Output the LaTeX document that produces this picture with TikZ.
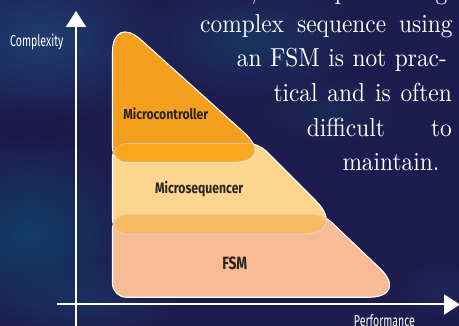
\documentclass[tikz,border=0pt]{standalone}
\usepackage{fontspec}
\usetikzlibrary{arrows.meta,calc,fadings}
\newfontfamily\labfont{Fira Sans}
\newfontfamily\gara{lmroman10-regular}[Extension=.otf,FakeStretch=0.9]
\definecolor{bgbase}{HTML}{1E1B4E}
\definecolor{mcfill}{HTML}{F59F1E}
\definecolor{msfill}{HTML}{FCD68E}
\definecolor{fsmfill}{HTML}{F8BB95}
\definecolor{bandone}{HTML}{FBA81C}
\definecolor{bandtwo}{HTML}{FBB961}
\definecolor{bandln}{HTML}{D8C2A2}
\definecolor{labtext}{HTML}{2A2421}
\tikzfading[name=softblob, inner color=transparent!0, outer color=transparent!100]
\newcommand\rc[4]{-- ($(#2)!#4!(#1)$) .. controls ($(#2)!0.45*#4!(#1)$) and ($(#2)!0.45*#4!(#3)$) .. ($(#2)!#4!(#3)$)}
\def\pathMC{($(A3)!0.5!(A1)$) \rc{A3}{A1}{A2}{38pt} \rc{A1}{A2}{A3}{44pt} \rc{A2}{A3}{A1}{14pt} -- cycle}
\def\pathMS{($(B4)!0.5!(B1)$) \rc{B4}{B1}{B2}{14pt} \rc{B1}{B2}{B3}{10pt} \rc{B2}{B3}{B4}{46pt} \rc{B3}{B4}{B1}{14pt} -- cycle}
\def\pathFSM{($(C4)!0.5!(C1)$) \rc{C4}{C1}{C2}{14pt} \rc{C1}{C2}{C3}{10pt} \rc{C2}{C3}{C4}{42pt} \rc{C3}{C4}{C1}{14pt} -- cycle}
\begin{document}
\begin{tikzpicture}[x=1pt,y=-1pt,
  shapeline/.style={draw=white, line width=1.1pt},
  bandline/.style={draw=bandln, line width=0.6pt},
  axisline/.style={draw=white, line width=2pt, -{Triangle[length=16pt,width=20pt]}},
  boxlabel/.style={inner sep=0pt, anchor=base, text=labtext},
  axislabel/.style={inner sep=0pt, anchor=base, text=white},
  prose/.style={inner sep=0pt, anchor=base west, text=white, font=\gara\fontsize{26}{30}\selectfont},
  blob/.style={path fading=softblob}]
\useasboundingbox (0,0) rectangle (459,326);
\clip (0,0) rectangle (459,326);
% background
\fill[bgbase] (0,0) rectangle (459,326);
\fill[blob, color={rgb,255:red,29;green,74;blue,125}, fill opacity=0.75] (40,40) ellipse [x radius=130, y radius=85];
\fill[blob, color={rgb,255:red,14;green,74;blue,112}, fill opacity=0.75] (30,235) ellipse [x radius=110, y radius=100];
\fill[blob, color={rgb,255:red,22;green,68;blue,108}, fill opacity=0.65] (250,40) ellipse [x radius=115, y radius=60];
\fill[blob, color={rgb,255:red,23;green,62;blue,100}, fill opacity=0.45] (330,110) ellipse [x radius=75, y radius=35];
\fill[blob, color={rgb,255:red,26;green,23;blue,67}, fill opacity=0.8] (30,125) ellipse [x radius=70, y radius=30];
\fill[blob, color={rgb,255:red,26;green,62;blue,109}, fill opacity=0.55] (90,300) ellipse [x radius=95, y radius=40];
\fill[blob, color={rgb,255:red,28;green,58;blue,102}, fill opacity=0.4] (440,290) ellipse [x radius=45, y radius=30];
% shape corners
\coordinate (A1) at (112.5,14.2);
\coordinate (A2) at (276.7,162);
\coordinate (A3) at (112.5,162);
\coordinate (B1) at (112.5,143.5);
\coordinate (B2) at (258.5,143.5);
\coordinate (B3) at (348.5,233.5);
\coordinate (B4) at (112.5,233.5);
\coordinate (C1) at (112.5,215);
\coordinate (C2) at (323.9,215);
\coordinate (C3) at (410.2,297.3);
\coordinate (C4) at (112.5,297.3);
% shapes
\path[fill=fsmfill, shapeline] \pathFSM;
\path[fill=msfill, shapeline] \pathMS;
\path[fill=mcfill, shapeline] \pathMC;
% overlap bands
\begin{scope}
  \clip \pathMC;
  \fill[bandone] \pathMS;
  \draw[bandline] \pathMS;
\end{scope}
\begin{scope}
  \clip \pathMS;
  \draw[bandline] \pathMC;
\end{scope}
\begin{scope}
  \clip \pathMS;
  \fill[bandtwo] \pathFSM;
  \draw[bandline] \pathFSM;
\end{scope}
\begin{scope}
  \clip \pathFSM;
  \draw[bandline] \pathMS;
\end{scope}
% labels
\node[boxlabel] (lmc) at (165.8,120) {\resizebox{85pt}{11.7pt}{\labfont\bfseries Microcontroller}};
\node[boxlabel] (lms) at (199.2,194) {\resizebox{88.3pt}{12.3pt}{\labfont\bfseries Microsequencer}};
\node[boxlabel] (lfsm) at (234.8,269.3) {\resizebox{25pt}{12.6pt}{\labfont\bfseries FSM}};
% axes
\coordinate (ybot) at (76,330);
\coordinate (ytop) at (76,11);
\coordinate (xl) at (57,304.5);
\coordinate (xr) at (460,304.5);
\draw[axisline] (ybot) -- (ytop);
\draw[axisline] (xl) -- (xr);
\node[axislabel] (lcx) at (36.7,46.7) {\resizebox{53.3pt}{12.4pt}{\labfont Complexity}};
\node[axislabel] (lpf) at (384.5,326.5) {\resizebox{61pt}{12pt}{\labfont Performance}};
% prose
\node[prose] (t0) at (164,0) {\makebox[283pt][s]{However, implementing}};
\node[prose] (t1) at (200,32.7) {\makebox[252.5pt][s]{complex sequence using}};
\node[prose] (t2) at (236.7,66.7) {\makebox[210pt][s]{an FSM is not prac-}};
\node[prose] (t3) at (273.3,101.7) {\makebox[178.4pt][s]{tical and is often}};
\node[prose] (t4) at (306.7,136.7) {\makebox[145pt][s]{difficult to}};
\node[prose] (t5) at (342.3,171) {maintain.};
\end{tikzpicture}
\end{document}
